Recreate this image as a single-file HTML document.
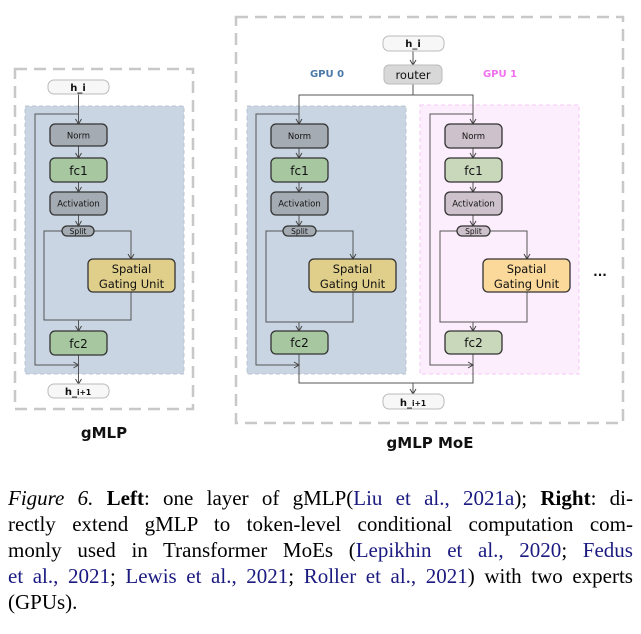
<!DOCTYPE html>
<html><head><meta charset="utf-8"><style>
body{margin:0;width:641px;height:634px;background:#fff;position:relative;overflow:hidden}
svg{position:absolute;left:0;top:0}
.cap{position:absolute;left:8px;width:625px;font-family:"Liberation Serif",serif;font-size:21px;line-height:26px;white-space:nowrap;color:#000}
.j{text-align:justify;text-align-last:justify;white-space:normal}
.l{color:#1a1a80}
</style></head><body>
<svg width="641" height="470" viewBox="0 0 641 470" font-family="Liberation Sans, sans-serif">
<defs><marker id="a" markerWidth="8" markerHeight="8" refX="6" refY="4" orient="auto" markerUnits="userSpaceOnUse"><path d="M1,1 L6,4 L1,7" fill="none" stroke="#444" stroke-width="1"/></marker></defs>
<!-- outer dashed -->
<rect x="15" y="69" width="178" height="340" fill="none" stroke="#c8c8c8" stroke-width="2.5" stroke-dasharray="12,7"/>
<rect x="236" y="17" width="387" height="406" fill="none" stroke="#c8c8c8" stroke-width="2.5" stroke-dasharray="12,7"/>
<!-- bg panels -->
<rect x="25" y="106" width="159" height="268" fill="#c9d5e2" stroke="#b8c4d2" stroke-dasharray="4,3"/>
<rect x="247" y="106" width="159" height="268" fill="#c9d5e2" stroke="#b8c4d2" stroke-dasharray="4,3"/>
<rect x="420" y="105" width="159" height="269" fill="#fdeefd" stroke="#f3c8f3" stroke-dasharray="4,3"/>
<g stroke="#555" stroke-width="1" fill="none">
<!-- left column -->
<path d="M78.5,94 V124" marker-end="url(#a)"/>
<path d="M78.5,114 H35 V365 H78.5" marker-end="url(#a)"/>
<path d="M78.5,146 V158" marker-end="url(#a)"/><path d="M78.5,182 V192" marker-end="url(#a)"/><path d="M78.5,215 V226" marker-end="url(#a)"/>
<path d="M62,231 H44 V320 H131 V292"/><path d="M94,231 H131 V259" marker-end="url(#a)"/>
<path d="M78.5,320 V331" marker-end="url(#a)"/><path d="M78.5,355 V384" marker-end="url(#a)"/>
<!-- moe -->
<path d="M413,51 V65" marker-end="url(#a)"/>
<path d="M413,84 V95 H299 V124" marker-end="url(#a)"/><path d="M413,95 H473 V124" marker-end="url(#a)"/>
<path d="M299,354 V383 H473 V354"/><path d="M413,383 V394" marker-end="url(#a)"/>
</g>
<g id="col" stroke="#555" stroke-width="1" fill="none">
<path d="M299,114 H256 V365 H299" marker-end="url(#a)"/>
<path d="M299,148 V158" marker-end="url(#a)"/><path d="M299,182 V192" marker-end="url(#a)"/><path d="M299,215 V226" marker-end="url(#a)"/>
<path d="M283,231 H266 V322 H353 V292"/><path d="M316,231 H353 V259" marker-end="url(#a)"/>
<path d="M299,322 V331" marker-end="url(#a)"/>
</g>
<use href="#col" x="174"/>
<g stroke="#333" stroke-width="1.3">
<!-- left boxes -->
<rect x="50" y="124" width="57" height="22" rx="5" fill="#a5abb3"/>
<rect x="50" y="158" width="57" height="24" rx="5" fill="#a6c7a0"/>
<rect x="50" y="192" width="57" height="23" rx="5" fill="#a5abb3"/>
<rect x="62" y="226" width="32" height="10" rx="5" fill="#a5abb3"/>
<rect x="88" y="259" width="87" height="33" rx="5" fill="#e0cf8a"/>
<rect x="50" y="331" width="57" height="24" rx="5" fill="#a6c7a0"/>
<!-- gpu0 -->
<rect x="271" y="124" width="57" height="24" rx="5" fill="#a5abb3"/>
<rect x="271" y="158" width="57" height="24" rx="5" fill="#a6c7a0"/>
<rect x="271" y="192" width="57" height="23" rx="5" fill="#a5abb3"/>
<rect x="283" y="226" width="33" height="10" rx="5" fill="#a5abb3"/>
<rect x="309" y="259" width="87" height="33" rx="5" fill="#e0cf8a"/>
<rect x="271" y="331" width="57" height="23" rx="5" fill="#a6c7a0"/>
<!-- gpu1 -->
<rect x="445" y="124" width="57" height="24" rx="5" fill="#cdc2cb"/>
<rect x="445" y="158" width="57" height="24" rx="5" fill="#c9d8bb"/>
<rect x="445" y="192" width="57" height="23" rx="5" fill="#cdc2cb"/>
<rect x="457" y="226" width="33" height="10" rx="5" fill="#cdc2cb"/>
<rect x="483" y="259" width="87" height="33" rx="5" fill="#fbd99a"/>
<rect x="445" y="331" width="57" height="23" rx="5" fill="#c9d8bb"/>
</g>
<g stroke="#bbb" stroke-width="1">
<rect x="48" y="80" width="61" height="14" rx="6" fill="#f7f7f7"/>
<rect x="48" y="384" width="61" height="14" rx="6" fill="#f7f7f7"/>
<rect x="383" y="36" width="61" height="15" rx="6" fill="#f7f7f7"/>
<rect x="384" y="65" width="58" height="19" rx="5" fill="#d8d8d8"/>
<rect x="383" y="394" width="61" height="15" rx="6" fill="#f7f7f7"/>
</g>
<g text-anchor="middle" fill="#111" font-family="DejaVu Sans, sans-serif">
<g font-size="8.5"><text x="78.5" y="138.5">Norm</text><text x="78.5" y="206.5">Activation</text><text x="299.5" y="139">Norm</text><text x="299.5" y="206.5">Activation</text><text x="473.5" y="139">Norm</text><text x="473.5" y="206.5">Activation</text></g>
<g font-size="7.5"><text x="78" y="234">Split</text><text x="299.5" y="234">Split</text><text x="473.5" y="234">Split</text></g>
<g font-size="12"><text x="78.5" y="175">fc1</text><text x="78.5" y="348">fc2</text><text x="299.5" y="175">fc1</text><text x="299.5" y="347">fc2</text><text x="473.5" y="175">fc1</text><text x="473.5" y="347">fc2</text><text x="413" y="79" font-size="11.5">router</text></g>
<g font-size="11.5"><text x="131.5" y="273">Spatial</text><text x="131.5" y="288">Gating Unit</text><text x="352.5" y="273">Spatial</text><text x="352.5" y="288">Gating Unit</text><text x="526.5" y="273">Spatial</text><text x="526.5" y="288">Gating Unit</text></g>
<g font-size="10" font-weight="bold"><text x="78" y="91">h_i</text><text x="413" y="47">h_i</text><text x="78" y="395">h_<tspan font-size="7.5">i+1</tspan></text><text x="413" y="406">h_<tspan font-size="7.5">i+1</tspan></text></g>
<g font-size="10" font-weight="bold"><text x="327" y="77" fill="#4a79a8">GPU 0</text><text x="500" y="77" fill="#f070f0">GPU 1</text></g>
<text x="600" y="276" font-size="12" font-weight="bold">...</text>
<g font-size="15" font-weight="bold"><text x="104" y="438">gMLP</text><text x="430" y="448">gMLP MoE</text></g>
</g>
</svg>
<div class="cap j" style="top:485px"><i>Figure 6.</i> <b>Left</b>: one layer of gMLP(<span class="l">Liu et al., 2021a</span>); <b>Right</b>: di-</div>
<div class="cap j" style="top:511px">rectly extend gMLP to token-level conditional computation com-</div>
<div class="cap j" style="top:537px">monly used in Transformer MoEs (<span class="l">Lepikhin et al., 2020</span>; <span class="l">Fedus</span></div>
<div class="cap j" style="top:563px"><span class="l">et al., 2021</span>; <span class="l">Lewis et al., 2021</span>; <span class="l">Roller et al., 2021</span>) with two experts</div>
<div class="cap" style="top:589px">(GPUs).</div>
</body></html>
